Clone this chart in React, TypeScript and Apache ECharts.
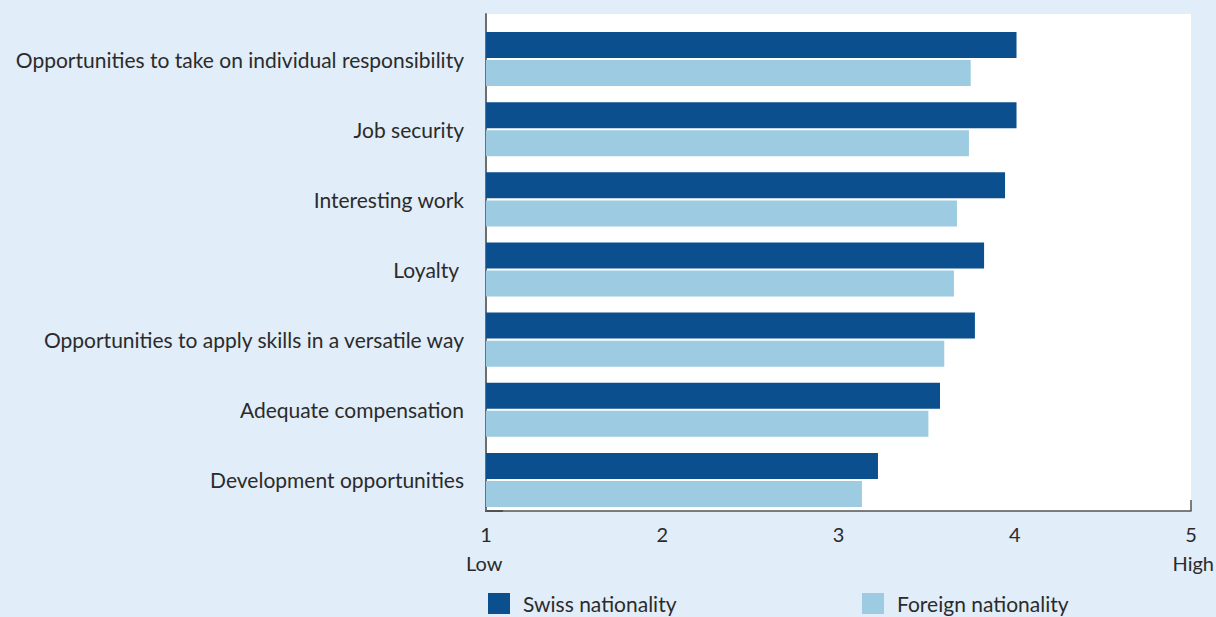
import React, { useEffect, useRef } from "react";
import * as echarts from "echarts";

const categories = [
  "Opportunities to take on individual responsibility",
  "Job security",
  "Interesting work",
  "Loyalty ",
  "Opportunities to apply skills in a versatile way",
  "Adequate compensation",
  "Development opportunities",
];
const swissValues = [4.01, 4.01, 3.945, 3.826, 3.774, 3.576, 3.224];
const foreignValues = [3.75, 3.74, 3.672, 3.655, 3.6, 3.51, 3.133];
const seriesNames = ["Swiss nationality", "Foreign nationality"];
const scaleEnds = ["Low", "High"];

const FONT = "Lato";
const TEXT = "#2b2b2b";
const SWISS = "#0b4f8f";
const FOREIGN = "#9dcbe1";
const BG = "#e1edf8";

export default function App() {
  const ref = useRef<HTMLDivElement>(null);
  useEffect(() => {
    if (!ref.current) return;
    const chart = echarts.init(ref.current, undefined, { renderer: "svg" });
    chart.setOption({
      animation: false,
      backgroundColor: BG,
      textStyle: { fontFamily: FONT, color: TEXT },
      grid: [
        {
          left: 486, top: 14, width: 705, height: 497,
          show: true, backgroundColor: "#ffffff", borderWidth: 0,
        },
        { left: 486, top: 24, width: 705, height: 491 },
      ],
      xAxis: [
        {
          gridIndex: 0, type: "value", min: 1, max: 5, interval: 1,
          axisLine: { show: true, lineStyle: { color: "#555555", width: 1.5 } },
          axisTick: { show: false },
          splitLine: { show: false },
          axisLabel: { fontFamily: FONT, fontSize: 20, color: TEXT, margin: 13 },
        },
        {
          gridIndex: 1, type: "value", min: 1, max: 5, show: false,
          splitLine: { show: false },
        },
      ],
      yAxis: [
        {
          gridIndex: 0, type: "value", min: 0, max: 1,
          axisLine: { show: true, lineStyle: { color: "#6e6e6e", width: 2 } },
          axisTick: { show: false }, axisLabel: { show: false },
          splitLine: { show: false },
        },
        {
          gridIndex: 1, type: "category", data: categories, inverse: true,
          axisLine: { show: false }, axisTick: { show: false },
          axisLabel: { fontFamily: FONT, fontSize: 21, color: TEXT, margin: 22, padding: [0, 0, 4, 0] },
        },
      ],
      legend: [
        {
          data: [seriesNames[0]], left: 488, top: 593, padding: 0, itemWidth: 22, itemHeight: 21,
          icon: "rect", textStyle: { fontFamily: FONT, fontSize: 21, color: TEXT, padding: [0, 0, 0, 8] },
          selectedMode: false,
        },
        {
          data: [seriesNames[1]], left: 862, top: 593, padding: 0, itemWidth: 22, itemHeight: 21,
          icon: "rect", textStyle: { fontFamily: FONT, fontSize: 21, color: TEXT, padding: [0, 0, 0, 8] },
          selectedMode: false,
        },
      ],
      graphic: [
        { type: "text", left: 466, top: 553, style: { text: scaleEnds[0], font: `20px ${FONT}`, fill: TEXT } },
        { type: "text", right: 2, top: 553, style: { text: scaleEnds[1], font: `20px ${FONT}`, fill: TEXT } },
        { type: "line", shape: { x1: 1191, y1: 500, x2: 1191, y2: 511 }, style: { stroke: "#555555", lineWidth: 1.5 } },
        { type: "line", shape: { x1: 485, y1: 511, x2: 503, y2: 511 }, style: { stroke: "#444444", lineWidth: 2 } },
      ],
      series: [
        {
          name: seriesNames[0], type: "bar", xAxisIndex: 1, yAxisIndex: 1,
          data: swissValues, barWidth: 26, barGap: "8%", itemStyle: { color: SWISS },
        },
        {
          name: seriesNames[1], type: "bar", xAxisIndex: 1, yAxisIndex: 1,
          data: foreignValues, barWidth: 26, barGap: "8%", itemStyle: { color: FOREIGN },
        },
      ],
    });
    return () => chart.dispose();
  }, []);
  return (
    <div
      ref={ref}
      style={{ position: "fixed", left: 0, top: 0, width: 1216, height: 617 }}
    />
  );
}
